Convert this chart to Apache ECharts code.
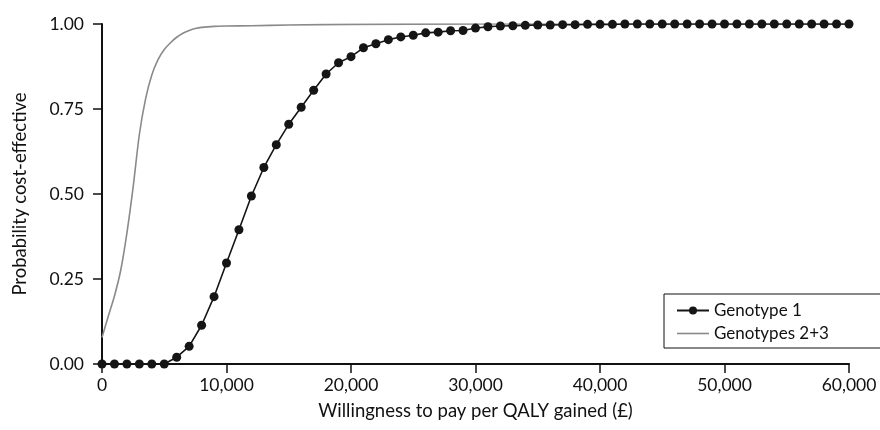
<!DOCTYPE html>
<html>
<head>
<meta charset="utf-8">
<script src="https://cdn.jsdelivr.net/npm/echarts@6/dist/echarts.min.js"></script>
<style>html,body{margin:0;padding:0;background:#fff;}#c{width:880px;height:430px;}</style>
</head>
<body>
<div id="c"></div>
<script>
// Willingness to pay (£) for Genotype 1 points
const wtpG1 = [];
for (let i = 0; i <= 60; i++) wtpG1.push(i * 1000);
const probG1 = [
  0, 0, 0, 0, 0, 0, 0.02, 0.052, 0.114, 0.198,
  0.297, 0.395, 0.494, 0.578, 0.645, 0.705, 0.755, 0.805, 0.853, 0.886,
  0.904, 0.930, 0.942, 0.954, 0.962, 0.967, 0.974, 0.976, 0.980, 0.981,
  0.988, 0.992, 0.994, 0.995, 0.996, 0.997, 0.997, 0.998, 0.998, 0.999,
  0.999, 0.999, 1, 1, 1, 1, 1, 1, 1, 1,
  1, 1, 1, 1, 1, 1, 1, 1, 1, 1,
  1
];
const wtpG23 = [0, 500, 1000, 1500, 2000, 2500, 3000, 3500, 4000, 4500, 5000, 5500, 6000, 6500, 7000, 7500, 8000, 9000, 10000, 12000, 15000, 20000, 30000, 45000, 60000];
const probG23 = [0.078, 0.14, 0.2, 0.275, 0.385, 0.52, 0.675, 0.78, 0.85, 0.895, 0.925, 0.945, 0.961, 0.973, 0.981, 0.987, 0.99, 0.993, 0.994, 0.995, 0.997, 0.999, 1, 1, 1];
const seriesNames = ['Genotype 1', 'Genotypes 2+3'];
const xTitle = 'Willingness to pay per QALY gained (£)';
const yTitle = 'Probability cost-effective';

const FONT = 'Lato';
const chart = echarts.init(document.getElementById('c'));
chart.setOption({
  animation: false,
  backgroundColor: '#fff',
  grid: { left: 102, right: 31, top: 24, bottom: 66, containLabel: false, outerBoundsMode: 'none' },
  xAxis: {
    type: 'value', min: 0, max: 60000, interval: 10000,
    name: xTitle, nameLocation: 'middle', nameGap: 38,
    nameTextStyle: { fontFamily: FONT, fontSize: 18.5, color: '#111' },
    axisLine: { show: true, lineStyle: { color: '#111', width: 2 } },
    axisTick: { show: true, length: 9, lineStyle: { color: '#111', width: 1.5 } },
    axisLabel: { fontFamily: FONT, fontSize: 17.5, color: '#111', margin: 12,
      formatter: v => v.toLocaleString('en-US') },
    splitLine: { show: false }
  },
  yAxis: {
    type: 'value', min: 0, max: 1, interval: 0.25,
    name: yTitle, nameLocation: 'middle', nameGap: 72,
    nameTextStyle: { fontFamily: FONT, fontSize: 18.5, color: '#111' },
    axisLine: { show: true, lineStyle: { color: '#111', width: 2 } },
    axisTick: { show: true, length: 9, lineStyle: { color: '#111', width: 1.5 } },
    axisLabel: { fontFamily: FONT, fontSize: 17.5, color: '#111', margin: 18,
      formatter: v => v.toFixed(2) },
    splitLine: { show: false }
  },
  legend: {
    orient: 'vertical', left: 664, top: 294, width: 185,
    borderColor: '#111', borderWidth: 1, borderRadius: 0,
    padding: [8, 60, 6, 12], itemGap: 6, itemWidth: 32, itemHeight: 10,
    symbolKeepAspect: true,
    textStyle: { fontFamily: FONT, fontSize: 17, color: '#111' },
    data: [
      { name: seriesNames[0] },
      { name: seriesNames[1], icon: 'path://M0,0 L32,0 L32,1.6 L0,1.6 Z' }
    ]
  },
  series: [
    {
      name: seriesNames[0], type: 'line',
      data: wtpG1.map((x, i) => [x, probG1[i]]),
      symbol: 'circle', symbolSize: 9,
      itemStyle: { color: '#151515' },
      lineStyle: { color: '#151515', width: 1.6 },
      z: 3
    },
    {
      name: seriesNames[1], type: 'line',
      data: wtpG23.map((x, i) => [x, probG23[i]]),
      symbol: 'none', smooth: 0.3,
      itemStyle: { color: '#8a8a8a' },
      lineStyle: { color: '#8a8a8a', width: 1.6 },
      z: 2
    }
  ]
});
</script>
</body>
</html>
